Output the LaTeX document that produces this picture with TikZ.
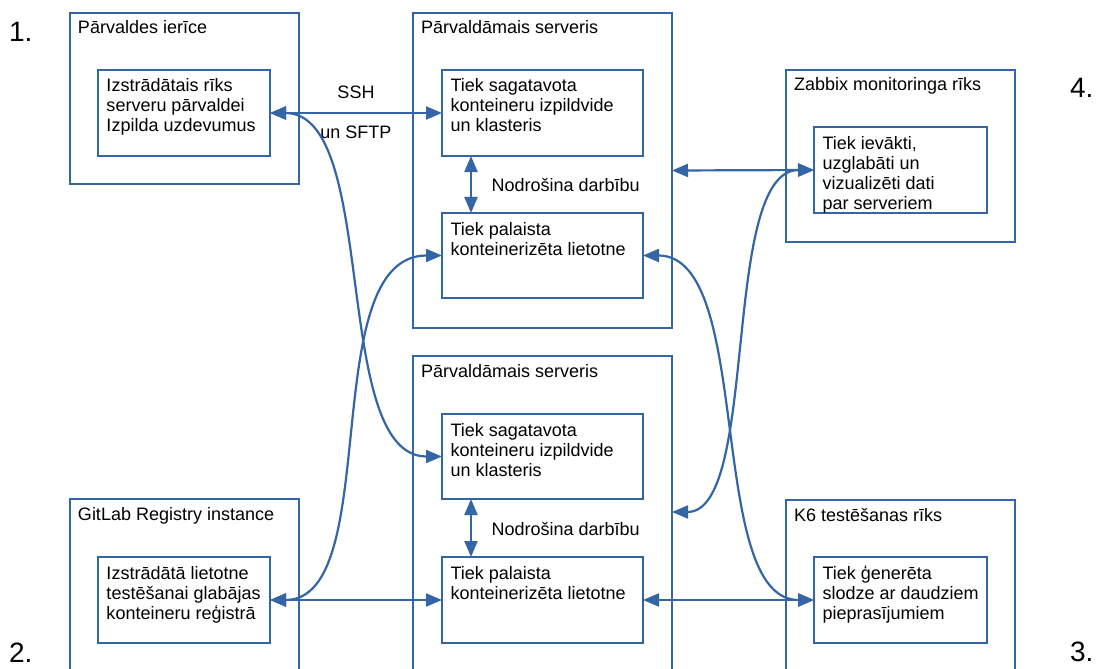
\documentclass[tikz,border=0pt]{standalone}
\usepackage{fontspec}
\setmainfont{Liberation Sans}
\usetikzlibrary{arrows.meta}
\definecolor{linkblue}{RGB}{52,101,164}
\newcommand\mainsize{\fontsize{18bp}{20bp}\selectfont}
\newcommand\numsize{\fontsize{28bp}{32bp}\selectfont}
\begin{document}
\begin{tikzpicture}[x=1bp,y=-1bp,
  every node/.style={inner sep=0pt, outer sep=0pt},
  >={Triangle[length=16bp,width=13bp]},
  panel/.style={draw=linkblue, line width=2.3bp},
  ttl/.style={anchor=north west, xshift=8bp, yshift=-7bp, font=\mainsize, align=left},
  body/.style={anchor=north west, xshift=8.5bp, yshift=-8bp, font=\mainsize, align=left},
  link/.style={draw=linkblue, line width=2.2bp, <->},
  note/.style={font=\mainsize},
  num/.style={font=\numsize, anchor=base west}]

\useasboundingbox (0,0) rectangle (1096,669);
\fill[white] (0,0) rectangle (1096,669);
\clip (0,0) rectangle (1096,669);

% outer containers
\node[panel, minimum width=229bp, minimum height=171bp,
  label={[ttl]north west:{\strut Pārvaldes ierīce}}] (dev) at (184.5,98.5) {};
\node[panel, minimum width=259bp, minimum height=315bp,
  label={[ttl]north west:{\strut Pārvaldāmais serveris}}] (srv1) at (542.5,170.5) {};
\node[panel, minimum width=229bp, minimum height=172bp,
  label={[ttl]north west:{\strut Zabbix monitoringa rīks}}] (zbx) at (900.5,156) {};
\node[panel, minimum width=259bp, minimum height=334bp,
  label={[ttl]north west:{\strut Pārvaldāmais serveris}}] (srv2) at (542.5,523) {};
\node[panel, minimum width=229bp, minimum height=191bp,
  label={[ttl]north west:{\strut GitLab Registry instance}}] (git) at (184.5,594.5) {};
\node[panel, minimum width=229bp, minimum height=190bp,
  label={[ttl]north west:{\strut K6 testēšanas rīks}}] (k6) at (900.5,595) {};

% inner blocks
\node[panel, minimum width=172bp, minimum height=86bp,
  label={[body]north west:{\strut Izstrādātais rīks\\serveru pārvaldei\\Izpilda uzdevumus}}] (tool) at (184,113) {};
\node[panel, minimum width=201bp, minimum height=86bp,
  label={[body]north west:{\strut Tiek sagatavota\\konteineru izpildvide\\un klasteris}}] (prep1) at (542.5,113) {};
\node[panel, minimum width=201bp, minimum height=85bp,
  label={[body]north west:{\strut Tiek palaista\\konteinerizēta lietotne}}] (app1) at (542.5,255.5) {};
\node[panel, minimum width=173bp, minimum height=86bp,
  label={[body]north west:{\strut Tiek ievākti,\\uzglabāti un\\vizualizēti dati\\par serveriem}}] (mon) at (900.5,170) {};
\node[panel, minimum width=201bp, minimum height=85bp,
  label={[body]north west:{\strut Tiek sagatavota\\konteineru izpildvide\\un klasteris}}] (prep2) at (542.5,456.5) {};
\node[panel, minimum width=201bp, minimum height=86bp,
  label={[body]north west:{\strut Tiek palaista\\konteinerizēta lietotne}}] (app2) at (542.5,600) {};
\node[panel, minimum width=172bp, minimum height=86bp,
  label={[body]north west:{\strut Izstrādātā lietotne\\testēšanai glabājas\\konteineru reģistrā}}] (reg) at (184,600) {};
\node[panel, minimum width=173bp, minimum height=86bp,
  label={[body]north west:{\strut Tiek ģenerēta\\slodze ar daudziem\\pieprasījumiem}}] (load) at (900.5,600) {};

% corner numbers
\node[num] (n1) at (9,42) {1.};
\node[num] (n2) at (9,662) {2.};
\node[num] (n3) at (1070,661) {3.};
\node[num] (n4) at (1070,98) {4.};

% straight links
\draw[link] (tool.east) --
  node[note, pos=0.5, anchor=base, yshift=14bp] {SSH}
  node[note, pos=0.5, anchor=base, yshift=-26bp] {un SFTP}
  (prep1.west);
\draw[link] ([xshift=29bp]prep1.south west) --
  node[note, midway, anchor=base west, xshift=20.5bp, yshift=-7.5bp] {Nodrošina darbību}
  ([xshift=29bp]app1.north west);
\draw[link] ([xshift=29bp]prep2.south west) --
  node[note, midway, anchor=base west, xshift=20.5bp, yshift=-7.5bp] {Nodrošina darbību}
  ([xshift=29bp]app2.north west);
\draw[link] (srv1.east) -- (mon.west);
\draw[link] (reg.east) -- (app2.west);
\draw[link] (app2.east) -- (load.west);

% curved links
\draw[link] (tool.east) .. controls +(110,0) and +(-112,0) .. (prep2.west);
\draw[link] (reg.east) .. controls +(115,0) and +(-127,0) .. (app1.west);
\draw[link] (mon.west) .. controls +(-94,0) and +(88,0) .. ([yshift=-156bp]srv2.north east);
\draw[link] (app1.east) .. controls +(112,0) and +(-109,0) .. (load.west);
\end{tikzpicture}
\end{document}
